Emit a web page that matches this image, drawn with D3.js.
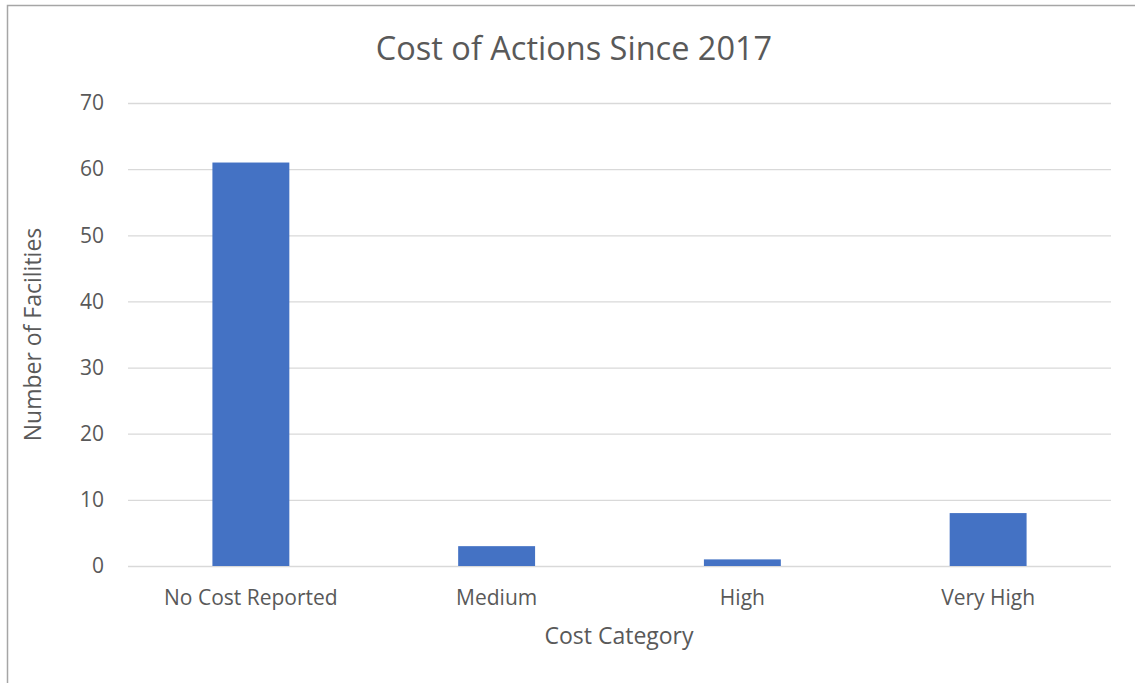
<!DOCTYPE html>
<html>
<head>
<meta charset="utf-8">
<script src="https://cdn.jsdelivr.net/npm/d3@7"></script>
<style>
  html, body { margin: 0; padding: 0; background: #fff; }
  svg { display: block; }
  text { font-family: "Open Sans", "Liberation Sans", sans-serif; fill: #595959; }
</style>
</head>
<body>
<svg id="chart" width="1135" height="683"></svg>
<script>
const categories = ["No Cost Reported", "Medium", "High", "Very High"];
const values = [61, 3, 1, 8];
const yTicks = [0, 10, 20, 30, 40, 50, 60, 70];
const title = "Cost of Actions Since 2017";
const xTitle = "Cost Category";
const yTitle = "Number of Facilities";

const svg = d3.select("#chart");
const W = 1135, H = 683;
const m = { left: 128, right: 24, top: 103, bottom: 117 };
const plotW = W - m.left - m.right;
const plotH = H - m.top - m.bottom;

// outer border
svg.append("rect")
  .attr("x", 7.5).attr("y", 5.5)
  .attr("width", 1140).attr("height", 700)
  .attr("fill", "none").attr("stroke", "#a6a6a6").attr("stroke-width", 1.5);

const x = d3.scaleBand().domain(categories).range([m.left, m.left + plotW]).paddingInner(0.687).paddingOuter(0.3435);
const y = d3.scaleLinear().domain([0, 70]).range([m.top + plotH, m.top]);

// gridlines
const grid = svg.append("g")
  .attr("transform", `translate(${m.left},0)`)
  .call(d3.axisLeft(y).tickValues(yTicks).tickSize(-plotW).tickFormat(""));
grid.select(".domain").remove();
grid.selectAll("line").attr("stroke", "#d9d9d9").attr("stroke-width", 1.3);

// y tick labels
const yAx = svg.append("g")
  .attr("transform", `translate(${m.left},0)`)
  .call(d3.axisLeft(y).tickValues(yTicks).tickSize(0).tickPadding(24));
yAx.select(".domain").remove();
yAx.selectAll("text").attr("font-size", 21).attr("fill", "#595959")
  .style("font-family", "'Open Sans', sans-serif");

// bars
svg.append("g").selectAll("rect")
  .data(values)
  .join("rect")
  .attr("x", (d, i) => x(categories[i]))
  .attr("width", x.bandwidth())
  .attr("y", d => y(d))
  .attr("height", d => y(0) - y(d))
  .attr("fill", "#4472c4");

// x axis labels
const xAx = svg.append("g")
  .attr("transform", `translate(0,${y(0)})`)
  .call(d3.axisBottom(x).tickSize(0).tickPadding(24));
xAx.select(".domain").remove();
xAx.selectAll("text").attr("font-size", 21).attr("fill", "#595959")
  .style("font-family", "'Open Sans', sans-serif");

// title
svg.append("text").attr("x", 574).attr("y", 60)
  .attr("text-anchor", "middle").attr("font-size", 32.5).text(title);

// axis titles
svg.append("text").attr("x", 619).attr("y", 644)
  .attr("text-anchor", "middle").attr("font-size", 23).text(xTitle);
svg.append("text")
  .attr("transform", `translate(41,${y(35)}) rotate(-90)`)
  .attr("text-anchor", "middle").attr("font-size", 23).text(yTitle);
</script>
</body>
</html>
